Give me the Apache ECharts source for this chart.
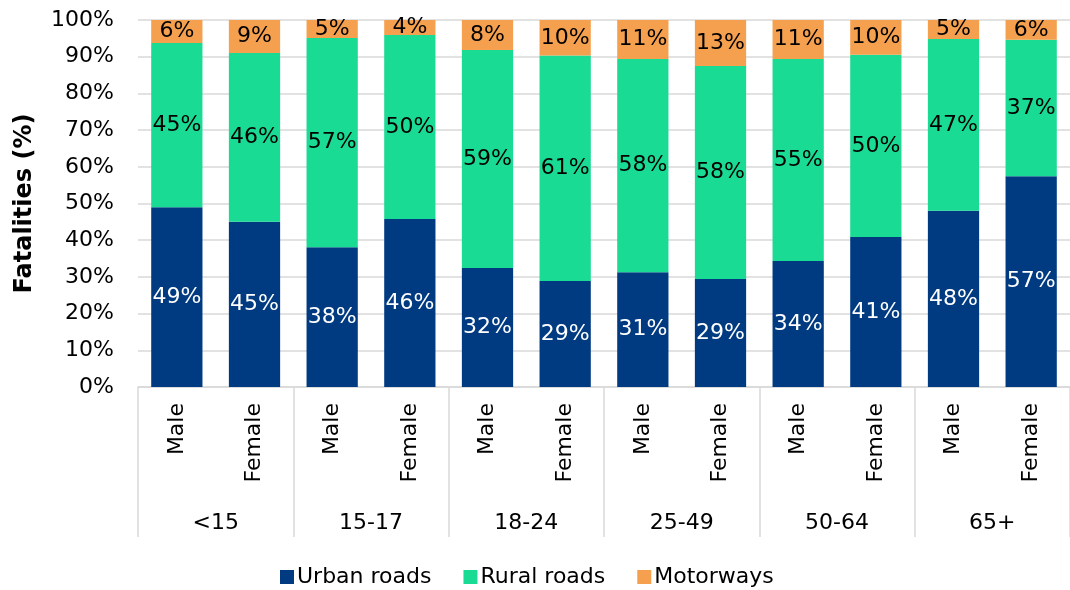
<!DOCTYPE html>
<html>
<head>
<meta charset="utf-8">
<script src="https://cdn.jsdelivr.net/npm/echarts@6/dist/echarts.min.js"></script>
<style>html,body{margin:0;padding:0;background:#fff}#c{width:1070px;height:590px}</style>
</head>
<body>
<div id="c"></div>
<script>
var genders = ['Male','Female','Male','Female','Male','Female','Male','Female','Male','Female','Male','Female'];
var ageGroups = ['<15','15-17','18-24','25-49','50-64','65+'];
var seriesNames = ['Urban roads','Rural roads','Motorways'];
var urban = [49.0, 45.0, 38.1, 45.8, 32.4, 28.9, 31.3, 29.4, 34.3, 40.9, 48.0, 57.4];
var rural = [44.7, 46.0, 57.0, 50.1, 59.4, 61.4, 58.1, 58.1, 55.1, 49.6, 46.8, 37.2];
var motorways = [6.3, 9.0, 4.9, 4.1, 8.2, 9.7, 10.6, 12.6, 10.6, 9.5, 5.2, 5.6];
var yTicks = ['0%','10%','20%','30%','40%','50%','60%','70%','80%','90%','100%'];

var FONT = 'DejaVu Sans';
var chart = echarts.init(document.getElementById('c'));
function lbl(color){
  return {show:true, position:'inside', color:color, fontSize:22, fontFamily:FONT,
    formatter:function(p){return Math.round(p.value)+'%';}};
}
chart.setOption({
  animation:false,
  textStyle:{fontFamily:FONT},
  grid:{left:138, top:20, width:941, height:367, containLabel:false},
  legend:{
    data:seriesNames, left:275, top:561, icon:'rect', itemWidth:14, itemHeight:14, itemGap:32,
    textStyle:{fontSize:22, fontFamily:FONT, color:'#000', padding:[0,0,0,-2]}
  },
  xAxis:[
    {type:'category', data:genders, position:'bottom',
      axisLine:{show:true, lineStyle:{color:'#d9d9d9', width:1.5}},
      axisTick:{show:false},
      axisLabel:{rotate:90, margin:16, fontSize:22, color:'#000', fontFamily:FONT, interval:0}
    },
    {type:'category', data:ageGroups, position:'bottom',
      axisLine:{show:false},
      axisTick:{show:true, length:150, inside:false, interval:0, lineStyle:{color:'#d9d9d9', width:1.5}},
      axisLabel:{margin:125, fontSize:22, color:'#000', fontFamily:FONT, interval:0}
    }
  ],
  yAxis:{type:'value', min:0, max:100, interval:10,
    name:'Fatalities (%)', nameLocation:'middle', nameGap:101,
    nameTextStyle:{fontSize:24, fontWeight:'bold', color:'#000', fontFamily:FONT},
    axisLine:{show:false}, axisTick:{show:false},
    splitLine:{lineStyle:{color:'#d9d9d9', width:1.5}},
    axisLabel:{fontSize:22, color:'#000', fontFamily:FONT, margin:24,
      formatter:function(v){return yTicks[Math.round(v/10)];}}
  },
  series:[
    {name:seriesNames[0], type:'bar', stack:'t', data:urban, barCategoryGap:'34%', xAxisIndex:0,
      itemStyle:{color:'#003A80'}, label:lbl('#fff')},
    {name:seriesNames[1], type:'bar', stack:'t', data:rural, xAxisIndex:0,
      itemStyle:{color:'#1ADB94'}, label:lbl('#000')},
    {name:seriesNames[2], type:'bar', stack:'t', data:motorways, xAxisIndex:0,
      itemStyle:{color:'#F5A04E'}, label:lbl('#000')}
  ]
});
</script>
</body>
</html>
